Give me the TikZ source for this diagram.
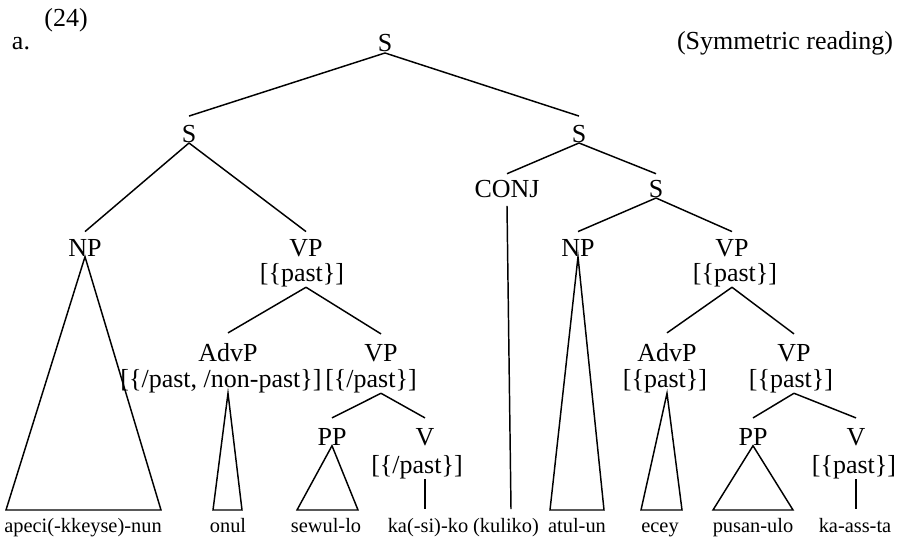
\documentclass[tikz,border=0pt]{standalone}
\usepackage{fontspec}
\setmainfont{Liberation Serif}
\usetikzlibrary{calc}

\begin{document}
\begin{tikzpicture}[x=0.75pt, y=-0.75pt, line width=1.1pt,
    cat/.style={inner sep=0pt, anchor=base, font=\fontsize{19.5}{21}\selectfont},
    word/.style={inner sep=0pt, anchor=base, font=\fontsize{15.3}{17}\selectfont}]
  \useasboundingbox (0,0) rectangle (898,542);
  %labels
  \node[cat] (num) at (66,27) {(24)};
  \node[cat] (ex) at (21,50) {a.};
  \node[cat] (read) at (785,50) {(Symmetric reading)};
  %nodes
  \node[cat] (s0) at (385,52) {S};
  \node[cat] (s1) at (189,142) {S};
  \node[cat] (s2) at (579,142) {S};
  \node[cat] (conj) at (507,197) {CONJ};
  \node[cat] (s3) at (656,197) {S};
  \node[cat] (np1) at (85,256) {NP};
  \node[cat] (vp1) at (306,256) {VP};
  \node[cat] (vp1f) at (302,281) {[\{past\}]};
  \node[cat] (np2) at (578,256) {NP};
  \node[cat] (vp2) at (732,256) {VP};
  \node[cat] (vp2f) at (735,281) {[\{past\}]};
  \node[cat] (advp1) at (228,361) {AdvP};
  \node[cat] (advp1f) at (221,387) {[\{/past, /non-past\}]};
  \node[cat] (vp3) at (381,361) {VP};
  \node[cat] (vp3f) at (371,387) {[\{/past\}]};
  \node[cat] (advp2) at (667,361) {AdvP};
  \node[cat] (advp2f) at (665,387) {[\{past\}]};
  \node[cat] (vp4) at (794,361) {VP};
  \node[cat] (vp4f) at (791,387) {[\{past\}]};
  \node[cat] (pp1) at (332,445) {PP};
  \node[cat] (v1) at (425,445) {V};
  \node[cat] (v1f) at (417,473) {[\{/past\}]};
  \node[cat] (pp2) at (753,445) {PP};
  \node[cat] (v2) at (856,445) {V};
  \node[cat] (v2f) at (854,473) {[\{past\}]};
  %words
  \node[word] (w1) at (83,532) {apeci(-kkeyse)-nun};
  \node[word] (w2) at (228,532) {onul};
  \node[word] (w3) at (326,532) {sewul-lo};
  \node[word] (w4) at (428,532) {ka(-si)-ko};
  \node[word] (w5) at (506,532) {(kuliko)};
  \node[word] (w6) at (577,532) {atul-un};
  \node[word] (w7) at (660,532) {ecey};
  \node[word] (w8) at (753,532) {pusan-ulo};
  \node[word] (w9) at (855,532) {ka-ass-ta};
  %feet
  \coordinate (foot) at (0,509);
  \coordinate (np1l) at (6,510);     \coordinate (np1r) at (161,510);
  \coordinate (advp1l) at (213,510); \coordinate (advp1r) at (242,510);
  \coordinate (pp1l) at (297,510);   \coordinate (pp1r) at (358,510);
  \coordinate (np2l) at (550,510);   \coordinate (np2r) at (604,510);
  \coordinate (advp2l) at (641,510); \coordinate (advp2r) at (682,510);
  \coordinate (pp2l) at (713,510);   \coordinate (pp2r) at (793,510);
  %edges
  \draw (s0.south) -- ([yshift=6pt]s1.north);
  \draw (s0.south) -- ([yshift=6pt]s2.north);
  \draw (s1.south) -- ([yshift=5pt]np1.north);
  \draw (s1.south) -- ([yshift=5pt]vp1.north);
  \draw (s2.south) -- ([yshift=4pt]conj.north);
  \draw (s2.south) -- ([yshift=4pt]s3.north);
  \draw (s3.south) -- ([yshift=5pt]np2.north);
  \draw (s3.south) -- ([yshift=5pt]vp2.north);
  \draw (vp1 |- vp1f.south) -- ([yshift=7pt]advp1.north);
  \draw (vp1 |- vp1f.south) -- ([yshift=7pt]vp3.north);
  \draw (vp2 |- vp2f.south) -- ([yshift=7pt]advp2.north);
  \draw (vp2 |- vp2f.south) -- ([yshift=7pt]vp4.north);
  \draw (vp3 |- vp3f.south) -- ([yshift=7pt]pp1.north);
  \draw (vp3 |- vp3f.south) -- ([yshift=7pt]v1.north);
  \draw (vp4 |- vp4f.south) -- ([yshift=7pt]pp2.north);
  \draw (vp4 |- vp4f.south) -- ([yshift=7pt]v2.north);
  %triangles and unary lines
  \draw (np1.south) -- (np1l) -- (np1r) -- cycle;
  \draw (advp1 |- advp1f.south) -- (advp1l) -- (advp1r) -- cycle;
  \draw (pp1.south) -- (pp1l) -- (pp1r) -- cycle;
  \draw (np2.south) -- (np2l) -- (np2r) -- cycle;
  \draw (advp2 |- advp2f.south) -- (advp2l) -- (advp2r) -- cycle;
  \draw (pp2.south) -- (pp2l) -- (pp2r) -- cycle;
  \draw ([yshift=-6pt]conj.south) -- ([xshift=3pt]conj |- foot);
  \draw (v1 |- v1f.south) -- (v1 |- foot);
  \draw (v2 |- v2f.south) -- (v2 |- foot);
\end{tikzpicture}
\end{document}
